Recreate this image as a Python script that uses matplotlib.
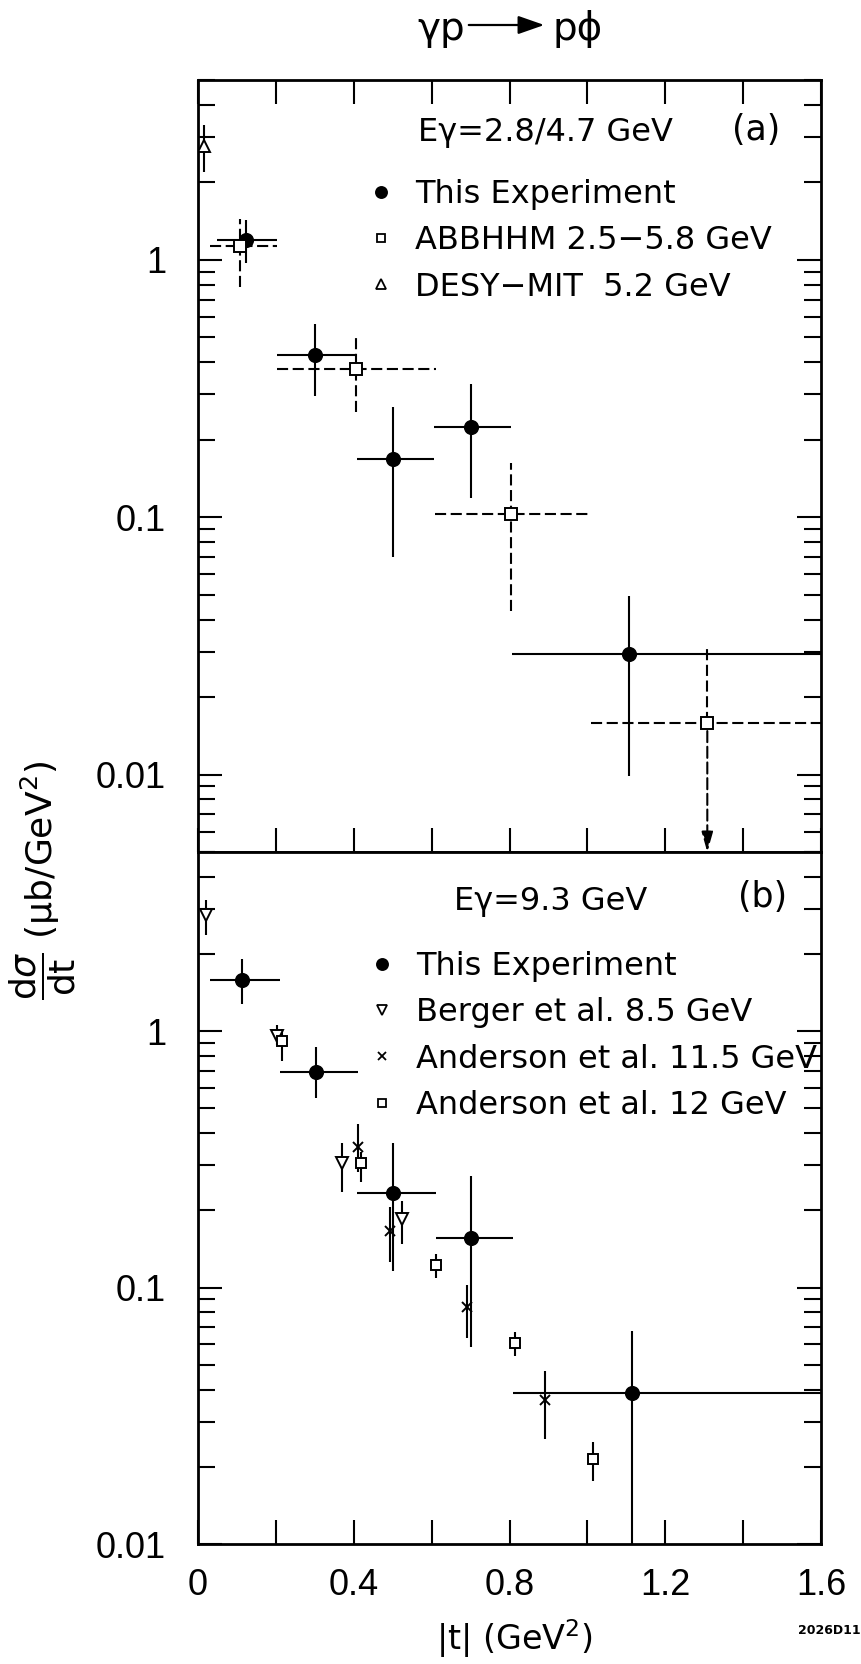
import numpy as np
import matplotlib
matplotlib.use("Agg")
import matplotlib.pyplot as plt
from matplotlib import font_manager
from matplotlib.lines import Line2D
from matplotlib.patches import FancyArrowPatch
from matplotlib.ticker import LogLocator, MultipleLocator, NullFormatter, FuncFormatter

plt.rcParams['lines.scale_dashes'] = False
plt.rcParams['font.family'] = ['DejaVu Sans']
plt.rcParams['mathtext.fontset'] = 'dejavusans'

installed = {f.name for f in font_manager.fontManager.ttflist}
if 'Liberation Sans Narrow' in installed:
    TICK_FONT = 'Liberation Sans Narrow'
elif 'Liberation Sans' in installed:
    TICK_FONT = 'Liberation Sans'
else:
    TICK_FONT = 'DejaVu Sans'

# ---------------- panel (a): E_gamma = 2.8 / 4.7 GeV ----------------
# This experiment
a_this_t = [0.124, 0.300, 0.502, 0.702, 1.108]
a_this_tlo = [0.049, 0.203, 0.408, 0.605, 0.806]
a_this_thi = [0.202, 0.405, 0.607, 0.805, 1.600]
a_this_v = [1.19, 0.428, 0.168, 0.225, 0.0294]
a_this_vlo = [0.975, 0.297, 0.070, 0.119, 0.0099]
a_this_vhi = [1.43, 0.561, 0.269, 0.328, 0.0495]

# ABBHHM 2.5-5.8 GeV (last point is an upper limit)
a_abb_t = [0.108, 0.407, 0.805, 1.308]
a_abb_tlo = [0.030, 0.202, 0.608, 1.009]
a_abb_thi = [0.202, 0.610, 1.010, 1.600]
a_abb_v = [1.13, 0.378, 0.103, 0.0159]
a_abb_vlo = [0.787, 0.257, 0.0432, np.nan]
a_abb_vhi = [1.44, 0.496, 0.163, 0.0318]
a_abb_limit = [False, False, False, True]

# DESY-MIT 5.2 GeV
a_desy_t = [0.0144]
a_desy_v = [2.77]
a_desy_vlo = [2.20]
a_desy_vhi = [3.35]

# ---------------- panel (b): E_gamma = 9.3 GeV ----------------
b_this_t = [0.114, 0.302, 0.502, 0.701, 1.114]
b_this_tlo = [0.030, 0.210, 0.409, 0.610, 0.809]
b_this_thi = [0.211, 0.410, 0.612, 0.810, 1.600]
b_this_v = [1.587, 0.695, 0.234, 0.156, 0.0389]
b_this_vlo = [1.28, 0.55, 0.1165, 0.0589, 0.010]
b_this_vhi = [1.92, 0.867, 0.366, 0.273, 0.068]

# Berger et al. 8.5 GeV
b_berger_t = [0.021, 0.202, 0.371, 0.523]
b_berger_v = [2.83, 0.954, 0.306, 0.185]
b_berger_vlo = [2.38, 0.88, 0.237, 0.148]
b_berger_vhi = [3.26, 1.056, 0.366, 0.218]

# Anderson et al. 11.5 GeV
b_and115_t = [0.410, 0.492, 0.691, 0.891]
b_and115_v = [0.355, 0.167, 0.0843, 0.0364]
b_and115_vlo = [0.283, 0.126, 0.0636, 0.0256]
b_and115_vhi = [0.433, 0.206, 0.1025, 0.0473]

# Anderson et al. 12 GeV
b_and12_t = [0.217, 0.418, 0.612, 0.813, 1.015]
b_and12_v = [0.914, 0.305, 0.123, 0.0607, 0.0215]
b_and12_vlo = [0.768, 0.259, 0.109, 0.0543, 0.0176]
b_and12_vhi = [1.02, 0.339, 0.135, 0.067, 0.0251]

W, H, DPI = 862, 1664, 100
fig = plt.figure(figsize=(W / DPI, H / DPI), dpi=DPI)
fig.patch.set_facecolor('white')


def fx(px):
    return px / W


def fy(py):
    return 1.0 - py / H


LEFT, RIGHT, TOP, MID, BOTTOM = 198, 821, 80, 852, 1544
ax_a = fig.add_axes([fx(LEFT), fy(MID), (RIGHT - LEFT) / W, (MID - TOP) / H])
ax_b = fig.add_axes([fx(LEFT), fy(BOTTOM), (RIGHT - LEFT) / W, (BOTTOM - MID) / H])

DASH = (0, (8, 3.3))


def x_label_fmt(v, _):
    return f"{v:g}" if abs(v / 0.4 - round(v / 0.4)) < 1e-6 else ""


def style_axis(ax, ylim, top_ticks, show_xlabels):
    ax.set_yscale('log')
    ax.set_xlim(0, 1.6)
    ax.set_ylim(*ylim)
    ax.xaxis.set_major_locator(MultipleLocator(0.2))
    ax.xaxis.set_major_formatter(FuncFormatter(x_label_fmt))
    ax.yaxis.set_major_locator(LogLocator(base=10.0, numticks=12))
    ax.yaxis.set_minor_locator(LogLocator(base=10.0, subs=np.arange(2, 10), numticks=12))
    ax.yaxis.set_major_formatter(FuncFormatter(lambda v, _: f"{v:g}"))
    ax.yaxis.set_minor_formatter(NullFormatter())
    ax.tick_params(axis='both', which='both', direction='in', width=1.5, color='black')
    ax.tick_params(axis='y', which='both', left=True, right=True)
    ax.tick_params(axis='y', which='major', length=17, pad=23, labelsize=26,
                   labelfontfamily=TICK_FONT)
    ax.tick_params(axis='y', which='minor', length=12)
    ax.tick_params(axis='x', which='major', length=17, top=top_ticks, bottom=True,
                   labelbottom=show_xlabels, pad=17, labelsize=26,
                   labelfontfamily=TICK_FONT)
    for s in ax.spines.values():
        s.set_linewidth(2.0)


style_axis(ax_a, (0.005, 5), top_ticks=True, show_xlabels=False)
style_axis(ax_b, (0.01, 5), top_ticks=False, show_xlabels=True)


def draw_points(ax, t, v, vlo, vhi, tlo=None, thi=None, marker='o', ms=9.5,
                filled=True, dashed=False):
    t = np.asarray(t, float)
    v = np.asarray(v, float)
    vlo = np.asarray(vlo, float)
    vhi = np.asarray(vhi, float)
    yerr = [v - vlo, vhi - v]
    xerr = None
    if tlo is not None:
        xerr = [t - np.asarray(tlo, float), np.asarray(thi, float) - t]
    eb = ax.errorbar(t, v, yerr=yerr, xerr=xerr, fmt=marker, ms=ms,
                     mfc='black' if filled else 'white', mec='black', mew=1.4,
                     ecolor='black', elinewidth=1.5, capsize=0, zorder=3)
    if dashed:
        for lc in eb[2]:
            lc.set_linestyle(DASH)
    eb[0].set_zorder(4)
    return eb


# panel (a)
draw_points(ax_a, a_this_t, a_this_v, a_this_vlo, a_this_vhi, a_this_tlo, a_this_thi,
            marker='o', ms=9.5)
abb_v = np.asarray(a_abb_v, float)
abb_vlo = np.where(a_abb_limit, abb_v, np.asarray(a_abb_vlo, float))
draw_points(ax_a, a_abb_t, abb_v, abb_vlo, a_abb_vhi, a_abb_tlo, a_abb_thi,
            marker='s', ms=8, filled=False, dashed=True)
for ti, vi, lim in zip(a_abb_t, a_abb_v, a_abb_limit):
    if lim:
        ax_a.annotate('', xy=(ti, ax_a.get_ylim()[0]), xytext=(ti, vi),
                      arrowprops=dict(arrowstyle='-|>,head_length=0.6,head_width=0.17',
                                      color='black', lw=1.5, linestyle=DASH,
                                      shrinkA=6, shrinkB=0, mutation_scale=20),
                      zorder=2)
draw_points(ax_a, a_desy_t, a_desy_v, a_desy_vlo, a_desy_vhi, marker='^', ms=8,
            filled=False)

# panel (b)
draw_points(ax_b, b_this_t, b_this_v, b_this_vlo, b_this_vhi, b_this_tlo, b_this_thi,
            marker='o', ms=9.5)
draw_points(ax_b, b_berger_t, b_berger_v, b_berger_vlo, b_berger_vhi, marker='v',
            ms=8, filled=False)
draw_points(ax_b, b_and115_t, b_and115_v, b_and115_vlo, b_and115_vhi, marker='x',
            ms=7, filled=False)
draw_points(ax_b, b_and12_t, b_and12_v, b_and12_vlo, b_and12_vhi, marker='s',
            ms=7.5, filled=False)

# legends
LEG_FS = 23


def key(marker, ms, filled=False):
    return Line2D([], [], ls='none', marker=marker, ms=ms, mew=1.3,
                  mfc='black' if filled else 'white', mec='black')


def add_legend(ax, handles, labels, x_px, y_px):
    return ax.legend(handles, labels, loc='upper left',
                     bbox_to_anchor=(fx(x_px), fy(y_px)),
                     bbox_transform=fig.transFigure,
                     frameon=False, fontsize=LEG_FS, handlelength=0.8,
                     handletextpad=0.66, labelspacing=0.48, borderpad=0,
                     borderaxespad=0, numpoints=1)


add_legend(ax_a,
           [key('o', 8, True), key('s', 6), key('^', 6.5)],
           ["This Experiment", "ABBHHM 2.5\u22125.8 GeV", "DESY\u2212MIT  5.2 GeV"],
           368, 179)
add_legend(ax_b,
           [key('o', 8, True), key('v', 6.5), key('x', 6), key('s', 6)],
           ["This Experiment", "Berger et al. 8.5 GeV", "Anderson et al. 11.5 GeV",
            "Anderson et al. 12 GeV"],
           369, 951)

# panel annotations
fig.text(fx(418), fy(141), "E\u03b3=2.8/4.7 GeV", fontsize=LEG_FS, ha='left',
         va='baseline')
fig.text(fx(780), fy(130), "(a)", fontsize=25, ha='right', va='center')
fig.text(fx(453.6), fy(910), "E\u03b3=9.3 GeV", fontsize=LEG_FS, ha='left',
         va='baseline')
fig.text(fx(787), fy(897), "(b)", fontsize=25, ha='right', va='center')

# reaction title
fig.text(fx(417), fy(40), "\u03b3p", fontsize=28, ha='left', va='baseline')
fig.text(fx(552), fy(40), "p\u03d5", fontsize=28, ha='left', va='baseline')
fig.add_artist(FancyArrowPatch((fx(466), fy(25)), (fx(547), fy(25)),
                               transform=fig.transFigure,
                               arrowstyle='-|>,head_length=0.8,head_width=0.28',
                               mutation_scale=20, lw=1.6, color='black'))

# axis titles
fig.text(fx(43), fy(1000),
         r"$\dfrac{\mathrm{d}\sigma}{\mathrm{dt}}$ (" + "\u03bc" + r"b/GeV$^{2}$)",
         fontsize=26, rotation=90, rotation_mode='anchor', ha='left', va='center')
fig.text(fx(514), fy(1639), r"|t| (GeV$^{2}$)", fontsize=24, ha='center',
         va='center')
fig.text(fx(861), fy(1630), "2026D11", fontsize=9, fontweight='bold', ha='right',
         va='center')

fig.savefig("out.png", dpi=DPI, facecolor='white')
